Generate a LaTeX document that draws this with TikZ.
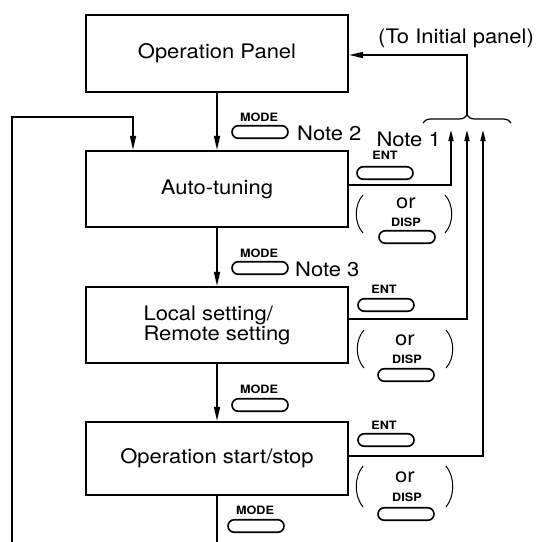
\documentclass[tikz,border=0pt]{standalone}
\usepackage{fontspec}
\setmainfont{TeX Gyre Heros}[FakeStretch=1.1]
\usetikzlibrary{arrows.meta,shapes.misc,decorations.pathreplacing}
\begin{document}
\begin{tikzpicture}[x=1pt,y=-1pt,
  box/.style={draw, line width=2.2pt, minimum width=262pt, inner sep=0pt, align=left, font=\fontsize{20}{20}\selectfont},
  conn/.style={line width=1.5pt},
  arr/.style={conn, -{Triangle[length=14pt,width=6pt]}},
  sarr/.style={conn, -{Triangle[length=11pt,width=5pt]}},
  pill/.style={draw, rounded rectangle, line width=1.6pt, minimum width=56pt, minimum height=12.5pt, inner sep=0pt},
  keylbl/.style={font=\bfseries\fontsize{11.5}{12}\selectfont, inner sep=0pt},
  lbl/.style={font=\fontsize{20}{20}\selectfont, inner sep=0pt},
  paren/.style={line width=1pt}
]
\useasboundingbox (0,0) rectangle (539,542);

% boxes
\node[box, minimum height=77pt] (p1) at (217,53.5) {Operation Panel};
\node[box, minimum height=76pt] (p2) at (217,189) {Auto-tuning};
\node[box, minimum height=76pt] (p3) at (217,325) {Local setting/\\Remote setting};
\node[box, minimum height=73pt] (p4) at (217,458.5) {Operation start/stop};

% main flow
\draw[arr] (p1) -- (p2);
\draw[arr] (p2) -- (p3);
\draw[arr] (p3) -- (p4);
\coordinate (bot) at (217,542);
\draw[conn] (p4) -- (bot);

% loop back
\coordinate (lb) at (12,542);
\coordinate (lt) at (12,117);
\coordinate (lr) at (133,117);
\draw[arr] (lb) -- (lt) -- (lr) -- (lr |- p2.north);

% exits
\coordinate (u1) at (451,130);
\coordinate (u2) at (467,130);
\coordinate (u3) at (483,130);
\draw[sarr] (p2.east |- 0,185) -| (u1);
\draw[sarr] (p3.east |- 0,319) -| (u2);
\draw[sarr] (p4.east |- 0,456) -| (u3);

% brace and return
\draw[line width=1.2pt, decorate, decoration={brace,amplitude=8pt}] (423,123) -- (511,123);
\coordinate (bt) at (467,115);
\coordinate (bc) at (467,55);
\draw[arr] (bt) -- (bc) -- (p1.east |- bc);

% texts
\node[lbl, anchor=base west] (to) at (378,43) {(To Initial panel)};
\node[lbl, anchor=base west] (n2) at (297,140) {Note 2};
\node[lbl, anchor=base east] (n1) at (441,146) {Note 1};
\node[lbl, anchor=base west] (n3) at (295,276) {Note 3};

% MODE keys
\node[keylbl] (mk1) at (259,117) {MODE}; \node[pill] (m1) at (260,132) {};
\node[keylbl] (mk2) at (259,253) {MODE}; \node[pill] (m2) at (260,268) {};
\node[keylbl] (mk3) at (259,389) {MODE}; \node[pill] (m3) at (260,405) {};
\node[keylbl] (mk4) at (255,510) {MODE}; \node[pill] (m4) at (256,526) {};

% ENT keys
\node[keylbl] (ek1) at (385,155) {ENT}; \node[pill] (e1) at (385,173) {};
\node[keylbl] (ek2) at (384,289) {ENT}; \node[pill] (e2) at (386,305) {};
\node[keylbl] (ek3) at (384,425) {ENT}; \node[pill] (e3) at (386,440) {};

% or DISP groups
\node[lbl] (or1) at (406,203) {or};
\node[keylbl] (dk1) at (406,222) {DISP}; \node[pill] (d1) at (407,237) {};
\draw[paren] (363,195) .. controls (354,205) and (354,223) .. (363,233);
\draw[paren] (445,195) .. controls (454,205) and (454,223) .. (445,233);

\node[lbl] (or2) at (405,340) {or};
\node[keylbl] (dk2) at (407,359) {DISP}; \node[pill] (d2) at (406,375) {};
\draw[paren] (364,330) .. controls (355,340) and (355,358) .. (364,368);
\draw[paren] (446,330) .. controls (455,340) and (455,358) .. (446,368);

\node[lbl] (or3) at (405,477) {or};
\node[keylbl] (dk3) at (407,497) {DISP}; \node[pill] (d3) at (406,514) {};
\draw[paren] (363,466) .. controls (354,477) and (354,496) .. (363,507);
\draw[paren] (446,466) .. controls (455,477) and (455,496) .. (446,507);
\end{tikzpicture}
\end{document}
